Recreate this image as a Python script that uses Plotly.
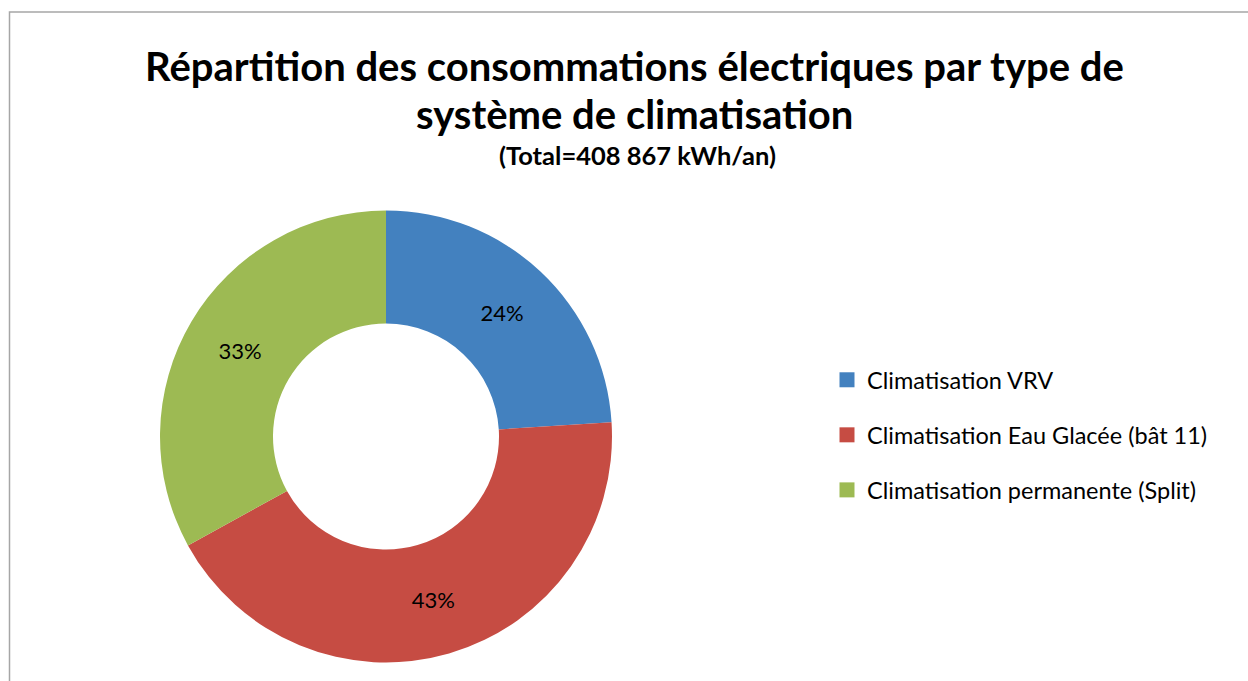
import plotly.graph_objects as go

categories = ["Climatisation VRV", "Climatisation Eau Glacée (bât 11)", "Climatisation permanente (Split)"]
shares = [24, 43, 33]
colors = ["#4381BF", "#C64C43", "#9DBA53"]
title_line1 = "Répartition des consommations électriques par type de"
title_line2 = "système de climatisation"
subtitle = "(Total=408 867 kWh/an)"

W, H = 1248, 681
FONT = "Lato"

fig = go.Figure()
fig.add_trace(go.Pie(
    labels=categories, values=shares, sort=False, direction="clockwise", rotation=0,
    hole=0.5, marker=dict(colors=colors, line=dict(width=0)),
    textinfo="percent", textposition="inside", insidetextorientation="horizontal",
    textfont=dict(family=FONT, size=22, color="black"),
    hoverinfo="skip", showlegend=False,
    domain=dict(x=[(386 - 226) / W, (386 + 226) / W], y=[(681 - 436.5 - 226) / H, (681 - 436.5 + 226) / H]),
))
for name, col in zip(categories, colors):
    fig.add_trace(go.Scatter(
        x=[None], y=[None], mode="markers", name=name, legendgroup=name,
        marker=dict(symbol="square", size=15, color=col), hoverinfo="skip",
    ))

def py(px):
    return 1 - px / H

ann = [
    dict(text=f"<b>{title_line1}</b>", x=634 / W, y=py(66), size=40),
    dict(text=f"<b>{title_line2}</b>", x=634 / W, y=py(114), size=40),
    dict(text=f"<b>{subtitle}</b>", x=637 / W, y=py(155), size=25.5),
]
fig.update_layout(
    width=W, height=H, autosize=False,
    margin=dict(l=0, r=0, t=0, b=0),
    paper_bgcolor="white", plot_bgcolor="white",
    xaxis=dict(visible=False), yaxis=dict(visible=False),
    font=dict(family=FONT, color="black"),
    legend=dict(x=827 / W, y=py(435), xanchor="left", yanchor="middle",
                font=dict(family=FONT, size=23.5, color="black"),
                tracegroupgap=21.5, bgcolor="rgba(0,0,0,0)"),
    annotations=[dict(text=a["text"], x=a["x"], y=a["y"], xref="paper", yref="paper",
                      xanchor="center", yanchor="middle", showarrow=False,
                      font=dict(family=FONT, size=a["size"], color="black")) for a in ann],
    shapes=[dict(type="rect", xref="paper", yref="paper",
                 x0=9.5 / W, x1=1.05, y0=-0.05, y1=py(12),
                 line=dict(color="#A6A6A6", width=1.5), fillcolor="rgba(0,0,0,0)", layer="below")],
)
fig.write_html("out.html", config={"displayModeBar": False},
               post_script="document.body.style.margin='0';document.body.style.overflow='hidden';")
